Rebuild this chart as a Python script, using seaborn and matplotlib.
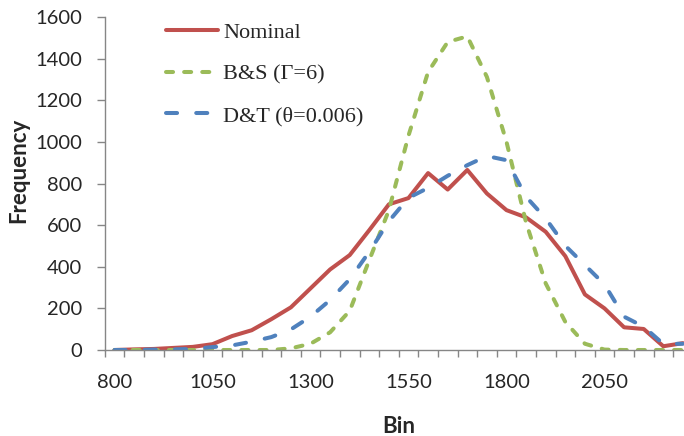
import pandas as pd
import matplotlib.pyplot as plt
import seaborn as sns

# категории (бины) и значения трёх серий
bins = [800, 850, 900, 950, 1000, 1050, 1100, 1150, 1200, 1250,
        1300, 1350, 1400, 1450, 1500, 1550, 1600, 1650, 1700, 1750,
        1800, 1850, 1900, 1950, 2000, 2050, 2100, 2150, 2200, 2250]
nominal = [0, 3, 5, 10, 15, 28, 67, 95, 148, 205,
           296, 387, 456, 576, 700, 730, 850, 771, 865, 752,
           672, 637, 568, 451, 267, 200, 109, 101, 18, 33]
bs = [0, 0, 0, 0, 0, 0, 0, 0, 0, 8,
      30, 85, 188, 432, 672, 1030, 1336, 1480, 1507, 1312,
      1000, 612, 320, 135, 30, 2, 0, 0, 0, 0]
dt = [0, 0, 2, 3, 5, 14, 22, 40, 62, 99,
      160, 240, 340, 472, 619, 731, 779, 837, 888, 932,
      912, 736, 632, 501, 408, 315, 160, 112, 29, 30]
series_names = ['Nominal', 'B&S (Γ=6)', 'D&T (θ=0.006)']
tick_labels = ['800', '1050', '1300', '1550', '1800', '2050']

sns.set_style('white')
plt.rcParams['lines.dash_capstyle'] = 'round'
plt.rcParams['lines.solid_capstyle'] = 'round'
plt.rcParams['lines.solid_joinstyle'] = 'round'
plt.rcParams['font.family'] = ['Lato', 'DejaVu Sans']

# длинная таблица для seaborn
rows = []
for name, vals in zip(series_names, [nominal, bs, dt]):
    for i, v in enumerate(vals):
        rows.append({'pos': i, 'value': v, 'series': name})
data = pd.DataFrame(rows)

palette = {'Nominal': '#C0504D', 'B&S (Γ=6)': '#9BBB59', 'D&T (θ=0.006)': '#4F81BD'}
dashes = {'Nominal': '', 'B&S (Γ=6)': (1.75, 2.75), 'D&T (θ=0.006)': (2.75, 4.75)}

fig = plt.figure(figsize=(6.84, 4.36), dpi=100)
W, H = 684, 436
x0, x1 = 104.7, 104.7 + 30 * 19.6
y0, y1 = 350, 17
ax = fig.add_axes([x0 / W, 1 - y0 / H, (x1 - x0) / W, (y0 - y1) / H])

sns.lineplot(data=data, x='pos', y='value', hue='series', style='series',
             palette=palette, dashes=dashes, linewidth=2.9,
             hue_order=series_names, style_order=series_names, ax=ax)

ax.set_xlim(-0.5, 29.5)
ax.set_ylim(0, 1600)
ax.set_yticks(range(0, 1601, 200))
ax.tick_params(axis='y', direction='out', length=5.5, width=1, color='#868686',
               pad=11, labelsize=14.5, left=True)

# деления на границах категорий, подписи в центрах каждой пятой
ax.set_xticks([i - 0.5 for i in range(31)])
ax.set_xticklabels([])
ax.set_xticks(range(0, 30, 5), minor=True)
ax.set_xticklabels(tick_labels, minor=True)
ax.tick_params(axis='x', which='major', direction='out', length=5, width=1,
               color='#868686', bottom=True)
ax.tick_params(axis='x', which='minor', length=0, pad=17, labelsize=14.5)

for side in ['top', 'right']:
    ax.spines[side].set_visible(False)
for side in ['left', 'bottom']:
    ax.spines[side].set_color('#868686')
    ax.spines[side].set_linewidth(1)

ax.set_xlabel('Bin', fontsize=16, fontweight='bold', labelpad=18)
ax.set_ylabel('Frequency', fontsize=16, fontweight='bold')
ax.yaxis.set_label_coords((29 - x0) / (x1 - x0), (y0 - 170) / (y0 - y1))

handles, labels = ax.get_legend_handles_labels()
ax.legend(handles, labels, loc='upper left', bbox_to_anchor=(155 / W, 1 - 11 / H),
          bbox_transform=fig.transFigure, frameon=False,
          prop={'family': 'Liberation Serif', 'size': 16},
          handlelength=2.35, handletextpad=0.22, labelspacing=0.95, borderpad=0)

fig.savefig('out.png', dpi=100)
